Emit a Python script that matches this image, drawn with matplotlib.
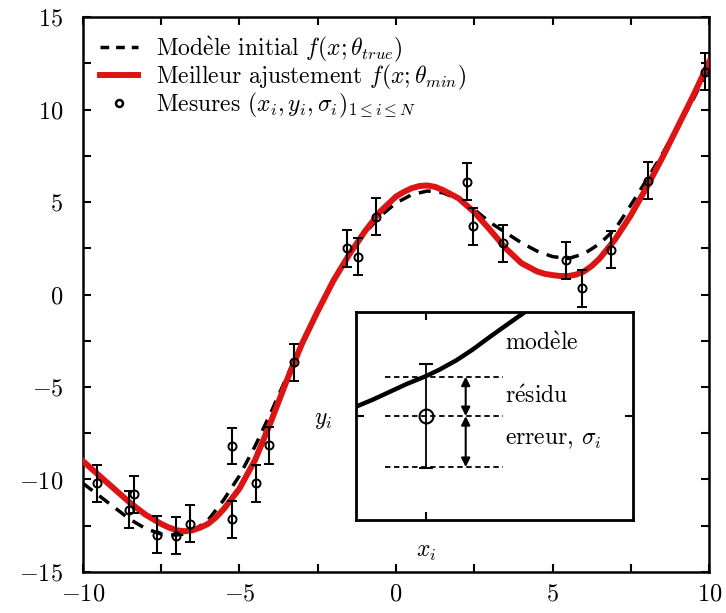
import matplotlib
matplotlib.use("Agg")
import matplotlib.pyplot as plt
from matplotlib.lines import Line2D
from matplotlib.ticker import MultipleLocator

plt.rcParams['font.family'] = ['cmr10', 'DejaVu Serif']
plt.rcParams['mathtext.fontset'] = 'cm'
plt.rcParams['axes.formatter.use_mathtext'] = True
plt.rcParams['axes.unicode_minus'] = True

# measurements
x_mes = [-9.56, -8.53, -8.37, -7.64, -7.01, -6.58, -5.23, -5.23, -4.47, -4.06, -3.26,
         -1.58, -1.22, -0.65, 2.28, 2.47, 3.41, 5.42, 5.93, 6.87, 8.05, 9.87]
y_mes = [-10.2, -11.65, -10.8, -13.0, -13.05, -12.4, -8.19, -12.15, -10.2, -8.14, -3.65,
         2.5, 2.05, 4.2, 6.1, 3.7, 2.77, 1.85, 0.33, 2.42, 6.15, 12.04]
sig_mes = [1.0] * 22

# initial model (dashed)
x_true = [-10, -9.5, -9, -8.5, -8, -7.5, -7.25, -7, -6.75, -6.5, -6, -5.5, -5, -4.5, -4,
          -3.5, -3, -2.5, -2, -1.5, -1, -0.5, 0, 0.5, 1, 1.5, 2, 2.5, 3, 3.5, 4, 4.5,
          5, 5.5, 6, 6.5, 7, 7.5, 8, 8.5, 9, 9.5, 10]
y_true = [-10.2, -10.85, -11.5, -12.15, -12.65, -12.95, -13.0, -13.0, -12.95, -12.8,
          -12.2, -11.1, -9.8, -8.2, -6.4, -4.5, -2.6, -0.85, 0.7, 2.1, 3.3, 4.25, 4.95,
          5.4, 5.6, 5.5, 5.15, 4.6, 3.9, 3.35, 2.8, 2.35, 2.05, 1.95, 2.2, 2.75, 3.55,
          4.85, 6.2, 7.6, 9.1, 10.6, 12.3]

# best fit (red)
x_fit = [-10, -9.5, -9, -8.5, -8, -7.5, -7.25, -7, -6.75, -6.5, -6.25, -6, -5.75, -5.5,
         -5, -4.5, -4, -3.5, -3, -2.5, -2, -1.5, -1, -0.5, 0, 0.25, 0.5, 0.75, 1, 1.25,
         1.5, 2, 2.5, 3, 3.5, 4, 4.5, 4.75, 5, 5.25, 5.5, 5.75, 6, 6.25, 6.5, 7, 7.5,
         8, 8.5, 9, 9.5, 10]
y_fit = [-9.0, -9.75, -10.5, -11.25, -11.9, -12.4, -12.6, -12.75, -12.8, -12.75, -12.6,
         -12.4, -12.05, -11.6, -10.5, -8.95, -6.9, -4.7, -2.65, -0.9, 0.75, 2.15, 3.4,
         4.5, 5.3, 5.55, 5.75, 5.87, 5.9, 5.82, 5.65, 5.2, 4.45, 3.5, 2.5, 1.7, 1.25,
         1.12, 1.05, 1.0, 1.0, 1.08, 1.25, 1.55, 1.95, 3.0, 4.3, 5.8, 7.4, 9.1, 10.8, 12.6]

# inset sketch (unit box)
u_model = [0.0, 0.063, 0.123, 0.183, 0.253, 0.303, 0.364, 0.423, 0.484, 0.544, 0.61]
v_model = [0.545, 0.58, 0.617, 0.654, 0.692, 0.724, 0.769, 0.821, 0.881, 0.938, 1.0]
u_point, v_point, s_point = 0.253, 0.5, 0.25
v_levels = [0.69, 0.5, 0.255]

red = '#dc1414'

fig = plt.figure(figsize=(7.26, 6.13), dpi=100)
ax = fig.add_axes([0.114, 0.067, 0.863, 0.905])

ax.plot(x_true, y_true, color='black', lw=2.5, dashes=(3.5, 2.5), zorder=2)
ax.plot(x_fit, y_fit, color=red, lw=4.3, solid_joinstyle='round', zorder=3)
ax.errorbar(x_mes, y_mes, yerr=sig_mes, fmt='o', ms=5.8, mfc='none', mec='black',
            mew=1.4, ecolor='black', elinewidth=1.5, capsize=3.5, capthick=1.5, zorder=4)

ax.set_xlim(-10, 10)
ax.set_ylim(-15, 15)
ax.xaxis.set_major_locator(MultipleLocator(5))
ax.yaxis.set_major_locator(MultipleLocator(5))
ax.xaxis.set_minor_locator(MultipleLocator(2.5))
ax.yaxis.set_minor_locator(MultipleLocator(2.5))
ax.tick_params(which='both', direction='in', top=True, right=True, length=6, width=1.5)
ax.tick_params(axis='x', labelsize=17.5, pad=8)
ax.tick_params(axis='y', labelsize=17.5, pad=14)
for s in ax.spines.values():
    s.set_linewidth(1.8)

handles = [Line2D([], [], color='black', lw=2.5, dashes=(2.5, 2.0)),
           Line2D([], [], color=red, lw=4.3),
           Line2D([], [], ls='none', marker='o', ms=5, mfc='none', mec='black', mew=1.8)]
labels = [r'Mod$\mathrm{\grave{e}}$le initial $f(x;\theta_{true})$',
          r'Meilleur ajustement $f(x;\theta_{min})$',
          r'Mesures $(x_i,y_i,\sigma_i)_{1\leq i\leq N}$']
ax.legend(handles, labels, loc='upper left', frameon=False, fontsize=17,
          handlelength=1.6, handletextpad=0.75, labelspacing=-0.04,
          borderaxespad=0.35, bbox_to_anchor=(0.0, 1.0))

# inset
ins = fig.add_axes([0.490, 0.1517, 0.3815, 0.339])
ins.set_xlim(0, 1)
ins.set_ylim(0, 1)
ins.plot(u_model, v_model, color='black', lw=3.2, solid_capstyle='butt')
for v in v_levels:
    ins.plot([0.105, 0.53], [v, v], color='black', lw=1.3, ls=(0, (3, 2)))
ins.errorbar([u_point], [v_point], yerr=[s_point], fmt='o', ms=10, mfc='none',
             mec='black', mew=1.5, ecolor='black', elinewidth=1.3, capsize=5, capthick=1.3)
for v0, v1 in [(v_levels[0], v_levels[1]), (v_levels[1], v_levels[2])]:
    ins.annotate('', xy=(0.397, v0), xytext=(0.397, v1),
                 arrowprops=dict(arrowstyle='<|-|>', color='black', lw=1.5,
                                 mutation_scale=13, shrinkA=0, shrinkB=0))
ins.text(0.54, 0.85, r'mod$\mathrm{\grave{e}}$le', fontsize=17, va='center')
ins.text(0.54, 0.595, r'r$\mathrm{\acute{e}}$sidu', fontsize=17, va='center')
ins.text(0.54, 0.385, r'erreur, $\sigma_i$', fontsize=17, va='center')
ins.set_xticks([u_point])
ins.set_yticks([v_point])
ins.set_xticklabels([r'$x_i$'])
ins.set_yticklabels([r'$y_i$'])
ins.tick_params(direction='in', top=True, right=True, length=6, width=1.5, labelsize=17)
ins.tick_params(axis='x', pad=15)
ins.tick_params(axis='y', pad=17)
for s in ins.spines.values():
    s.set_linewidth(2)

fig.savefig('out.png', dpi=100)
